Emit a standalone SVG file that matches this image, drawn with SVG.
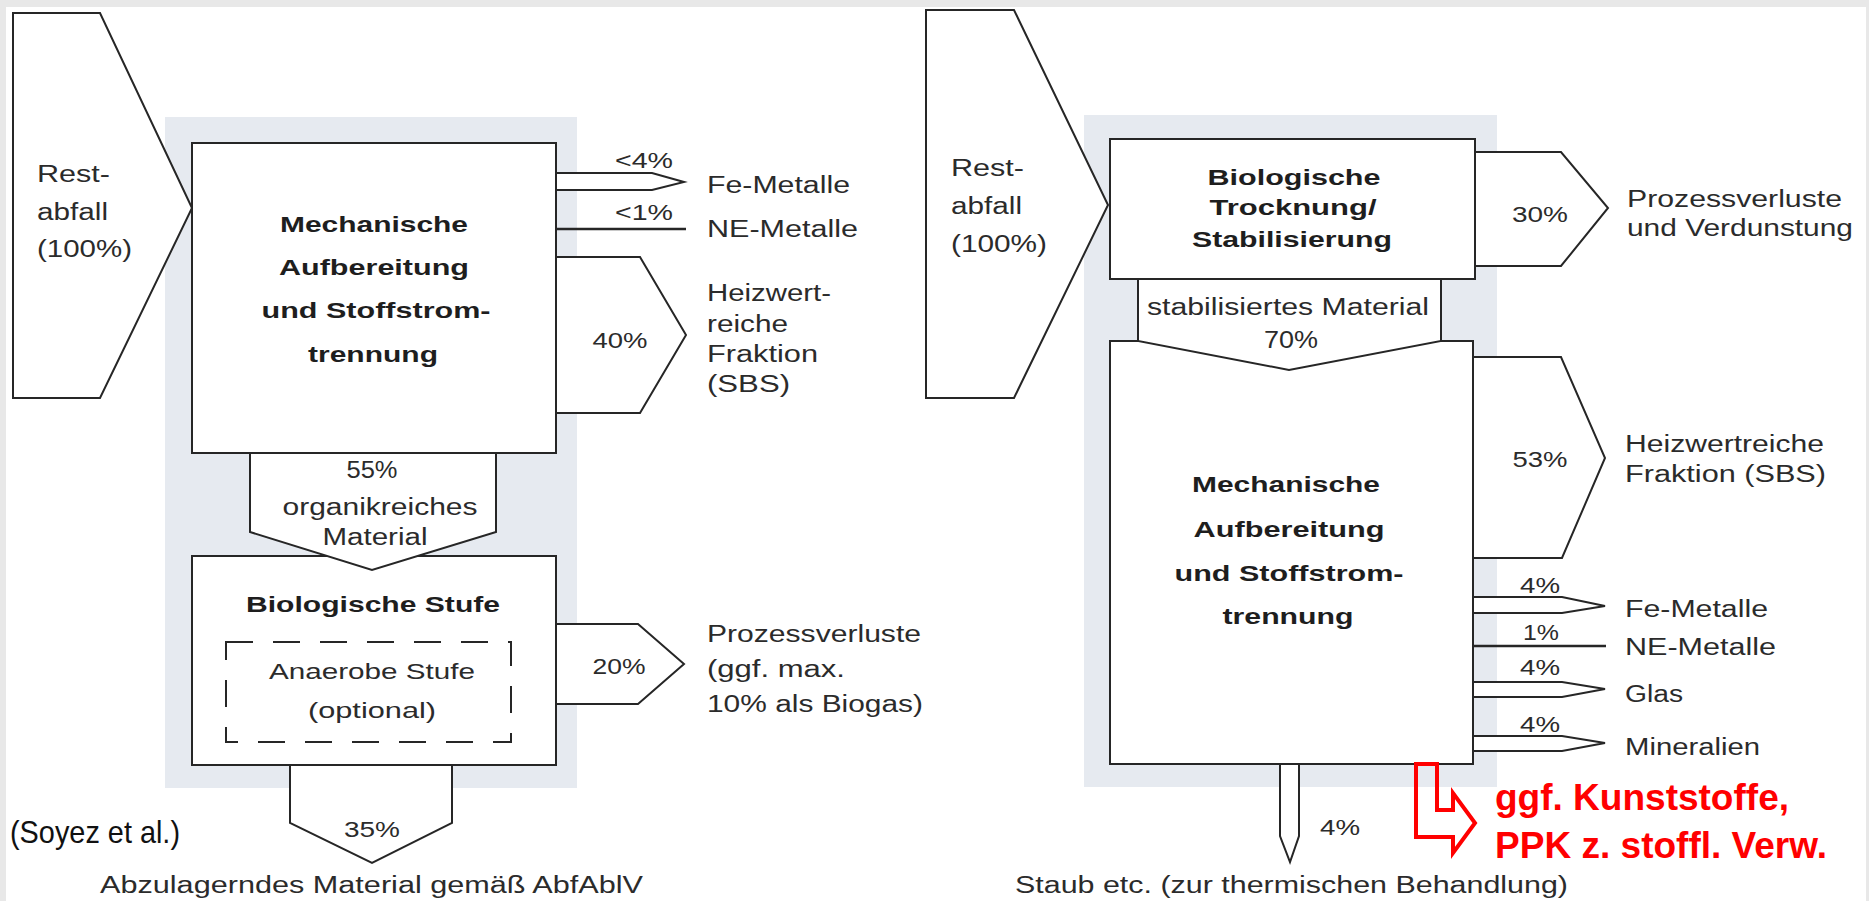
<svg xmlns="http://www.w3.org/2000/svg" width="1869" height="901" viewBox="0 0 1869 901">
<style>
.ln{fill:#fff;stroke:#262626;stroke-width:2;stroke-linejoin:miter}
.sh{fill:#e6eaf0}
.t{font-family:"Liberation Sans",Arial,sans-serif;font-size:23px;fill:#2b2b2b}
.b{font-weight:bold;font-size:22px;fill:#1e1e1e}
.c{text-anchor:middle}
.p{font-size:22px}
.red{font-family:"Liberation Sans",Arial,sans-serif;font-weight:bold;font-size:36px;fill:#ff0000}
</style>
<g id="background">
<rect x="0" y="0" width="1869" height="901" fill="#e8e8e8"/>
<rect x="6" y="7" width="1860" height="894" fill="#ffffff"/>
<rect class="sh" x="165" y="117" width="412" height="671"/>
<rect class="sh" x="1084" y="115" width="413" height="672"/>
</g>

<g id="node-mech-left">
<rect class="ln" x="192" y="143" width="364" height="310"/>
<text class="t b c" x="374" y="232" textLength="188" lengthAdjust="spacingAndGlyphs">Mechanische</text>
<text class="t b c" x="374" y="275" textLength="190" lengthAdjust="spacingAndGlyphs">Aufbereitung</text>
<text class="t b c" x="376" y="318" textLength="229" lengthAdjust="spacingAndGlyphs">und Stoffstrom-</text>
<text class="t b c" x="373" y="362" textLength="130" lengthAdjust="spacingAndGlyphs">trennung</text>
</g>

<g id="node-bio-left">
<rect class="ln" x="192" y="556" width="364" height="209"/>
<text class="t b c" x="373" y="612" textLength="254" lengthAdjust="spacingAndGlyphs">Biologische Stufe</text>
<rect x="226" y="642" width="285" height="100" fill="none" stroke="#262626" stroke-width="2" stroke-dasharray="27 20"/>
<text class="t c p" x="372" y="679" textLength="206" lengthAdjust="spacingAndGlyphs">Anaerobe Stufe</text>
<text class="t c p" x="372" y="718" textLength="128" lengthAdjust="spacingAndGlyphs">(optional)</text>
</g>

<g id="node-bio-right">
<rect class="ln" x="1110" y="139" width="365" height="140"/>
<text class="t b c" x="1294" y="185" textLength="173" lengthAdjust="spacingAndGlyphs">Biologische</text>
<text class="t b c" x="1293" y="215" textLength="167" lengthAdjust="spacingAndGlyphs">Trocknung/</text>
<text class="t b c" x="1292" y="247" textLength="200" lengthAdjust="spacingAndGlyphs">Stabilisierung</text>
</g>

<g id="node-mech-right">
<rect class="ln" x="1110" y="341" width="363" height="423"/>
<text class="t b c" x="1286" y="492" textLength="188" lengthAdjust="spacingAndGlyphs">Mechanische</text>
<text class="t b c" x="1289" y="537" textLength="191" lengthAdjust="spacingAndGlyphs">Aufbereitung</text>
<text class="t b c" x="1289" y="581" textLength="229" lengthAdjust="spacingAndGlyphs">und Stoffstrom-</text>
<text class="t b c" x="1288" y="624" textLength="131" lengthAdjust="spacingAndGlyphs">trennung</text>
</g>

<g id="connectors">
<polygon class="ln" points="13,13 100,13 192,208 100,398 13,398"/>
<text class="t" x="37" y="182" font-size="24" textLength="73" lengthAdjust="spacingAndGlyphs">Rest-</text>
<text class="t" x="37" y="220" font-size="24" textLength="71" lengthAdjust="spacingAndGlyphs">abfall</text>
<text class="t" x="37" y="257" font-size="24" textLength="95" lengthAdjust="spacingAndGlyphs">(100%)</text>

<polygon class="ln" points="556,173 652,173 684,182 652,190 556,190"/>
<text class="t c p" x="644" y="168" textLength="58" lengthAdjust="spacingAndGlyphs">&lt;4%</text>
<line x1="556" y1="229" x2="686" y2="229" stroke="#262626" stroke-width="2.5"/>
<text class="t c p" x="644" y="220" textLength="58" lengthAdjust="spacingAndGlyphs">&lt;1%</text>
<polygon class="ln" points="556,257 640,257 686,335 640,413 556,413"/>
<text class="t c p" x="620" y="348" textLength="55" lengthAdjust="spacingAndGlyphs">40%</text>

<polygon class="ln" points="250,453 496,453 496,532 372,570 250,532"/>
<text class="t c" x="372" y="478" textLength="51" lengthAdjust="spacingAndGlyphs">55%</text>
<text class="t c" x="380" y="515" textLength="195" lengthAdjust="spacingAndGlyphs">organikreiches</text>
<text class="t c" x="375" y="545" textLength="105" lengthAdjust="spacingAndGlyphs">Material</text>

<polygon class="ln" points="556,624 638,624 684,664 638,704 556,704"/>
<text class="t c p" x="619" y="674" textLength="53" lengthAdjust="spacingAndGlyphs">20%</text>

<polygon class="ln" points="290,765 452,765 452,823 372,863 290,823"/>
<text class="t c p" x="372" y="837" textLength="56" lengthAdjust="spacingAndGlyphs">35%</text>

<polygon class="ln" points="926,10 1014,10 1108,205 1014,398 926,398"/>
<text class="t" x="951" y="176" font-size="24" textLength="73" lengthAdjust="spacingAndGlyphs">Rest-</text>
<text class="t" x="951" y="214" font-size="24" textLength="71" lengthAdjust="spacingAndGlyphs">abfall</text>
<text class="t" x="951" y="252" font-size="24" textLength="96" lengthAdjust="spacingAndGlyphs">(100%)</text>

<polygon class="ln" points="1475,152 1561,152 1608,208 1561,266 1475,266"/>
<text class="t c p" x="1540" y="222" textLength="56" lengthAdjust="spacingAndGlyphs">30%</text>

<polygon class="ln" points="1138,279 1441,279 1441,341 1289,370 1138,341"/>
<text class="t c" x="1288" y="315" textLength="282" lengthAdjust="spacingAndGlyphs">stabilisiertes Material</text>
<text class="t c" x="1291" y="348" textLength="54" lengthAdjust="spacingAndGlyphs">70%</text>

<polygon class="ln" points="1473,357 1561,357 1605,458 1562,558 1473,558"/>
<text class="t c p" x="1540" y="467" textLength="55" lengthAdjust="spacingAndGlyphs">53%</text>

<polygon class="ln" points="1473,597 1562,597 1605,606 1562,613 1473,613"/>
<text class="t c p" x="1540" y="593" textLength="40" lengthAdjust="spacingAndGlyphs">4%</text>
<line x1="1473" y1="646" x2="1606" y2="646" stroke="#262626" stroke-width="2.5"/>
<text class="t c p" x="1541" y="640" textLength="36" lengthAdjust="spacingAndGlyphs">1%</text>
<polygon class="ln" points="1473,682 1562,682 1605,689 1562,697 1473,697"/>
<text class="t c p" x="1540" y="675" textLength="40" lengthAdjust="spacingAndGlyphs">4%</text>
<polygon class="ln" points="1473,736 1562,736 1605,743 1562,751 1473,751"/>
<text class="t c p" x="1540" y="732" textLength="40" lengthAdjust="spacingAndGlyphs">4%</text>

<polygon class="ln" points="1280,764 1299,764 1299,836 1290,862 1280,836"/>
<text class="t c p" x="1340" y="835" textLength="40" lengthAdjust="spacingAndGlyphs">4%</text>

<path d="M1416,764 L1437,764 L1437,810 L1453,810 L1453,793 L1475,823 L1453,853 L1453,837 L1416,837 Z" fill="none" stroke="#ff0000" stroke-width="4"/>
</g>

<g id="outputs-left">
<text class="t" x="707" y="193" textLength="143" lengthAdjust="spacingAndGlyphs">Fe-Metalle</text>
<text class="t" x="707" y="237" textLength="151" lengthAdjust="spacingAndGlyphs">NE-Metalle</text>
<text class="t" x="707" y="301" textLength="124" lengthAdjust="spacingAndGlyphs">Heizwert-</text>
<text class="t" x="707" y="332" textLength="81" lengthAdjust="spacingAndGlyphs">reiche</text>
<text class="t" x="707" y="362" textLength="111" lengthAdjust="spacingAndGlyphs">Fraktion</text>
<text class="t" x="707" y="392" textLength="83" lengthAdjust="spacingAndGlyphs">(SBS)</text>
<text class="t" x="707" y="642" textLength="214" lengthAdjust="spacingAndGlyphs">Prozessverluste</text>
<text class="t" x="707" y="677" textLength="138" lengthAdjust="spacingAndGlyphs">(ggf. max.</text>
<text class="t" x="707" y="712" textLength="216" lengthAdjust="spacingAndGlyphs">10% als Biogas)</text>
<text class="t" x="100" y="893" textLength="543" lengthAdjust="spacingAndGlyphs">Abzulagerndes Material gemäß AbfAblV</text>
</g>

<g id="outputs-right">
<text class="t" x="1627" y="207" textLength="215" lengthAdjust="spacingAndGlyphs">Prozessverluste</text>
<text class="t" x="1627" y="236" textLength="226" lengthAdjust="spacingAndGlyphs">und Verdunstung</text>
<text class="t" x="1625" y="452" textLength="199" lengthAdjust="spacingAndGlyphs">Heizwertreiche</text>
<text class="t" x="1625" y="482" textLength="201" lengthAdjust="spacingAndGlyphs">Fraktion (SBS)</text>
<text class="t" x="1625" y="617" textLength="143" lengthAdjust="spacingAndGlyphs">Fe-Metalle</text>
<text class="t" x="1625" y="655" textLength="151" lengthAdjust="spacingAndGlyphs">NE-Metalle</text>
<text class="t" x="1625" y="702" textLength="58" lengthAdjust="spacingAndGlyphs">Glas</text>
<text class="t" x="1625" y="755" textLength="135" lengthAdjust="spacingAndGlyphs">Mineralien</text>
<text class="t" x="1015" y="893" textLength="553" lengthAdjust="spacingAndGlyphs">Staub etc. (zur thermischen Behandlung)</text>
</g>

<g id="annotations">
<text class="red" x="1495" y="810" textLength="294" lengthAdjust="spacingAndGlyphs">ggf. Kunststoffe,</text>
<text class="red" x="1495" y="858" textLength="332" lengthAdjust="spacingAndGlyphs">PPK z. stoffl. Verw.</text>
<text x="10" y="843" font-family="'Liberation Sans Narrow','Liberation Sans',Arial,sans-serif" font-size="32" fill="#111" textLength="170" lengthAdjust="spacingAndGlyphs">(Soyez et al.)</text>
</g>
</svg>
